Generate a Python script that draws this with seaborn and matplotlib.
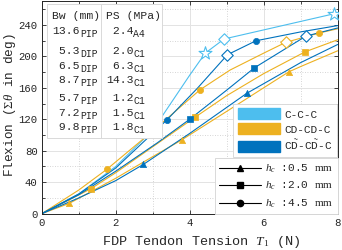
import matplotlib
matplotlib.use('Agg')
import matplotlib.pyplot as plt
import seaborn as sns
from matplotlib.patches import Patch, Rectangle
from matplotlib.lines import Line2D
from matplotlib.ticker import MultipleLocator

# --- data: tendon tension T1 (N) vs flexion (deg) ---
# C-C-C (one curve, star / diamond points marked on it)
ccc_x = [0, 1, 2, 3, 4, 4.42, 4.93, 7.9, 8]
ccc_y = [0, 25, 60, 106, 176, 204, 222, 254, 255]
ccc_star = [5, 7]
ccc_diamond = [6]

# CD-CD-C
cd_tri_x = [0, 0.75, 2, 3, 3.78, 5, 6, 6.68, 7, 8]
cd_tri_y = [0, 13.2, 45, 72.5, 93.6, 130, 160, 180.3, 187, 207]
cd_tri_marks = [1, 4, 7]

cd_sq_x = [0, 1.32, 2, 3, 4.14, 5, 6, 7.12, 8]
cd_sq_y = [0, 31.4, 52, 85, 122.4, 150, 178, 205.7, 221]
cd_sq_marks = [1, 4, 7]

cd_circ_x = [0, 1, 1.76, 3, 4.28, 5.09, 6, 6.59, 7.49, 8]
cd_circ_y = [0, 30, 56.4, 105, 157.5, 182.5, 204, 217.6, 229.5, 235]
cd_circ_marks = [2, 4, 8]
cd_circ_diamond = [7]

# C D~ - C D~ - C
cdt_tri_x = [0, 1, 2, 2.75, 4, 5.54, 7, 8]
cdt_tri_y = [0, 20, 42, 62.7, 102, 152.9, 192, 215]
cdt_tri_marks = [3, 5]

cdt_sq_x = [0, 1, 2, 3.13, 4, 5, 5.75, 7.14, 8]
cdt_sq_y = [0, 24, 54, 90.2, 120, 157, 185.4, 225.6, 236]
cdt_sq_marks = [4, 6]
cdt_sq_diamond = [7]

cdt_circ_x = [0, 1, 2, 3.38, 4.2, 5.02, 5.79, 7, 8]
cdt_circ_y = [0, 25, 58, 119, 159, 202, 219.7, 231, 239]
cdt_circ_marks = [3, 6]
cdt_circ_diamond = [5]

# table in the upper-left corner
bw_vals = ['13.6', ' 5.3', ' 6.5', ' 8.7', ' 5.7', ' 7.2', ' 9.8']
bw_joint = ['PIP', 'DIP', 'DIP', 'PIP', 'PIP', 'PIP', 'PIP']
ps_vals = [' 2.4', ' 2.0', ' 6.3', '14.3', ' 1.2', ' 1.5', ' 1.8']
ps_site = ['A4', 'C1', 'C1', 'C1', 'C1', 'C1', 'C1']

series_labels = ['C-C-C', 'CD-CD-C', r'C$\tilde{\mathtt{D}}$-C$\tilde{\mathtt{D}}$-C']
hc_labels = ['0.5', '2.0', '4.5']

LB, YE, BL = '#4DBEEE', '#EDB120', '#0072BD'

sns.set_theme(style='ticks')
plt.rcParams['font.family'] = ['Liberation Mono', 'DejaVu Sans Mono']
plt.rcParams['mathtext.fontset'] = 'custom'
plt.rcParams['mathtext.rm'] = 'Liberation Serif'
plt.rcParams['mathtext.it'] = 'Liberation Serif:italic'
plt.rcParams['mathtext.tt'] = 'Liberation Mono'
plt.rcParams['mathtext.bf'] = 'Liberation Serif:bold'

W, H = 342, 250
fig = plt.figure(figsize=(W / 100, H / 100), dpi=100)
ax = fig.add_axes([41.7 / W, 1 - 213.7 / H, 296 / W, 212.5 / H])


def fx(px):
    return px / W


def fy(py):
    return 1 - py / H


curves = [
    (ccc_x, ccc_y, LB, None, [], [('*', ccc_star, 95), ('D', ccc_diamond, 34)]),
    (cd_tri_x, cd_tri_y, YE, '^', cd_tri_marks, []),
    (cd_sq_x, cd_sq_y, YE, 's', cd_sq_marks, []),
    (cd_circ_x, cd_circ_y, YE, 'o', cd_circ_marks, [('D', cd_circ_diamond, 34)]),
    (cdt_tri_x, cdt_tri_y, BL, '^', cdt_tri_marks, []),
    (cdt_sq_x, cdt_sq_y, BL, 's', cdt_sq_marks, [('D', cdt_sq_diamond, 34)]),
    (cdt_circ_x, cdt_circ_y, BL, 'o', cdt_circ_marks, [('D', cdt_circ_diamond, 34)]),
]

for x, y, col, mk, idx, opens in curves:
    sns.lineplot(x=x, y=y, color=col, lw=0.8, ax=ax, estimator=None, sort=False)
    if mk:
        sns.scatterplot(x=[x[i] for i in idx], y=[y[i] for i in idx], marker=mk,
                        color=col, edgecolor=col, s=20, linewidth=0.5, ax=ax, zorder=4)
    for omk, oidx, osz in opens:
        sns.scatterplot(x=[x[i] for i in oidx], y=[y[i] for i in oidx], marker=omk,
                        facecolor='white', edgecolor=col, s=osz, linewidth=0.8,
                        ax=ax, zorder=5)

ax.set_xlim(0, 8)
ax.set_ylim(0, 270)
ax.xaxis.set_major_locator(MultipleLocator(2))
ax.xaxis.set_minor_locator(MultipleLocator(1))
ax.yaxis.set_major_locator(MultipleLocator(40))
ax.yaxis.set_minor_locator(MultipleLocator(20))
ax.grid(which='major', color='#e3e3e3', lw=0.7, ls='-')
ax.grid(which='minor', color='#c8c8c8', lw=0.6, ls=(0, (1, 2)))
ax.set_axisbelow(True)
for s in ax.spines.values():
    s.set_color('#262626')
    s.set_linewidth(0.7)
ax.tick_params(which='both', direction='in', top=True, right=True,
               width=0.6, color='#262626', labelcolor='#262626', labelsize=7.7, pad=3)
ax.tick_params(which='major', length=3)
ax.tick_params(which='minor', length=1.8)

ax.set_xlabel(r'FDP Tendon Tension $T_1$ (N)', fontsize=9.7, color='#262626')
ax.xaxis.set_label_coords((201.5 - 41.7) / 296, (213.7 - 242) / 212.5)
ax.xaxis.label.set_va('center')
ax.set_ylabel(r'Flexion ($\Sigma\theta$ in deg)', fontsize=9.2, color='#262626')
ax.yaxis.set_label_coords((10 - 41.7) / 296, (213.7 - 105) / 212.5)
ax.yaxis.label.set_va('center')

# table box
fig.patches.append(Rectangle((fx(47), fy(138)), fx(162) - fx(47), fy(4) - fy(138),
                             transform=fig.transFigure, facecolor='white',
                             edgecolor='#d9d9d9', lw=0.7, zorder=6))
fig.lines.append(Line2D([fx(101), fx(101)], [fy(4), fy(138)], transform=fig.transFigure,
                        color='#d9d9d9', lw=0.7, zorder=7))
tfs = 8.2
cw = 0.6 * tfs / 72 * 100  # monospace character width in px
fig.text(fx(52.5), fy(18.6), 'Bw (mm)', fontsize=tfs, va='baseline', zorder=8)
fig.text(fx(106), fy(18.6), 'PS (MPa)', fontsize=tfs, va='baseline', zorder=8)
row_base = [33.6, 53.6, 68.6, 82.6, 100.6, 116.3, 130.3]
for b, bw, j, ps, st in zip(row_base, bw_vals, bw_joint, ps_vals, ps_site):
    fig.text(fx(52.5), fy(b), bw, fontsize=tfs, va='baseline', zorder=8)
    fig.text(fx(52.5 + 4 * cw), fy(b + 3), j, fontsize=7, va='baseline', zorder=8)
    fig.text(fx(106), fy(b), ps, fontsize=tfs, va='baseline', zorder=8)
    fig.text(fx(106 + 4 * cw), fy(b + 3), st, fontsize=7, va='baseline', zorder=8)

# legends
h1 = [Patch(facecolor=c, edgecolor=c) for c in (LB, YE, BL)]
leg1 = ax.legend(h1, series_labels, loc='upper right', bbox_to_anchor=(fx(337), fy(104)),
                 bbox_transform=fig.transFigure, borderaxespad=0, fontsize=8,
                 handlelength=3.8, handleheight=1.1, labelspacing=0.35,
                 handletextpad=0.4, borderpad=0.4, fancybox=False, framealpha=1,
                 edgecolor='#d9d9d9')
leg1.get_frame().set_linewidth(0.7)
ax.add_artist(leg1)

h2 = [Line2D([], [], color='black', lw=0.8, marker=m, markersize=4.5)
      for m in ('^', 's', 'o')]
lab2 = [r'$h_c$ :' + v + r' $\mathrm{mm}$' for v in hc_labels]
leg2 = ax.legend(h2, lab2, loc='upper right', bbox_to_anchor=(fx(337.7), fy(158)),
                 bbox_transform=fig.transFigure, borderaxespad=0, fontsize=8,
                 handlelength=3.8, labelspacing=0.45, handletextpad=0.3,
                 borderpad=0.4, fancybox=False, framealpha=1, edgecolor='#d9d9d9')
leg2.get_frame().set_linewidth(0.7)

fig.savefig('out.png', dpi=100)
